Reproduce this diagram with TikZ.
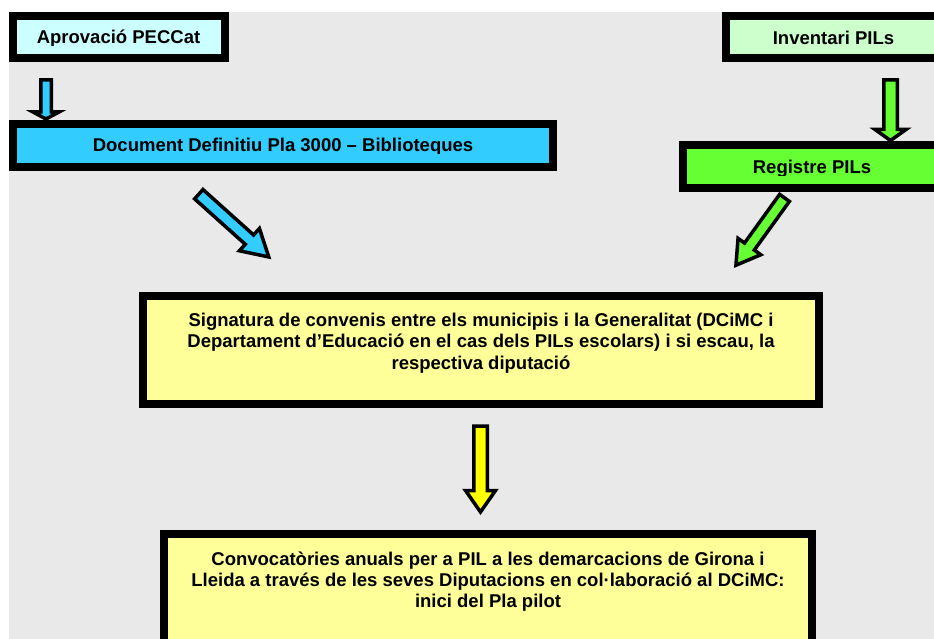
\documentclass[tikz,border=0pt]{standalone}
\usepackage{fontspec}
\setmainfont{Liberation Sans}
\definecolor{bgpat}{HTML}{E9E9E9}
\definecolor{lcyan}{HTML}{CCFFFF}
\definecolor{scyan}{HTML}{33CCFF}
\definecolor{lgreen}{HTML}{CCFFCC}
\definecolor{bgreen}{HTML}{66FF33}
\definecolor{lyellow}{HTML}{FFFF99}
\definecolor{byellow}{HTML}{FFFF00}
\tikzset{
  boxframe/.style={draw=black, line width=8pt},
  boxtext/.style={inner sep=0pt, anchor=base, font=\fontsize{18.5}{21.5}\selectfont\bfseries},
  barrow/.style={draw=black, line width=3.5pt, line join=miter},
}
% #1 colour, #2 x, #3 y (tail middle), #4 angle, #5 length, #6 shaft half width, #7 head half width, #8 head length
\newcommand\blockarrow[8]{%
  \begin{scope}[shift={(#2,#3)}, rotate=#4]
    \draw[barrow, fill=#1] (0,-#6) -- ({#5-#8},-#6) -- ({#5-#8},-#7) -- (#5,0)
      -- ({#5-#8},#7) -- ({#5-#8},#6) -- (0,#6) -- cycle;
  \end{scope}}
\begin{document}
\begin{tikzpicture}[x=1pt,y=-1pt]
\useasboundingbox (0,0) rectangle (934,639);
\fill[white] (0,0) rectangle (934,639);
\fill[bgpat] (9,12) rectangle (934,639);

% boxes
\draw[boxframe, fill=lcyan] (13,16) rectangle (225,58);
\begin{scope}\clip (13,16) rectangle (225,46);
\node[boxtext] (aprov) at (118.5,44) {Aprovació PECCat};
\end{scope}

\draw[boxframe, fill=scyan] (13,124) rectangle (553,167);
\begin{scope}\clip (13,124) rectangle (553,153.5);
\node[boxtext] (docdef) at (283,152) {Document Definitiu Pla 3000 – Biblioteques};
\end{scope}

\draw[boxframe, fill=lgreen] (726,16) rectangle (945,58);
\node[boxtext] (invent) at (833.5,45) {Inventari PILs};

\draw[boxframe, fill=bgreen] (683,145) rectangle (945,188);
\begin{scope}\clip (683,145) rectangle (945,175.5);
\node[boxtext] (regist) at (812,173.5) {Registre PILs};
\end{scope}

\draw[boxframe, fill=lyellow] (143,296) rectangle (819,404);
\node[boxtext] (sigA) at (481,326) {Signatura de convenis entre els municipis i la Generalitat (DCiMC i};
\node[boxtext] (sigB) at (481,347.5) {Departament d’Educació en el cas dels PILs escolars) i si escau, la};
\node[boxtext] (sigC) at (481,369) {respectiva diputació};

\draw[boxframe, fill=lyellow] (164,534) rectangle (812,650);
\node[boxtext] (convA) at (488,565) {Convocatòries anuals per a PIL a les demarcacions de Girona i};
\node[boxtext] (convB) at (488,586) {Lleida a través de les seves Diputacions en col·laboració al DCiMC:};
\node[boxtext] (convC) at (488,607) {inici del Pla pilot};

% block arrows
\blockarrow{scyan}{46}{80}{-90}{39}{5.25}{13}{7}
\blockarrow{bgreen}{890.5}{80}{-90}{60.5}{6.75}{15.5}{11}
\blockarrow{byellow}{480.5}{426}{-90}{86}{6.75}{15}{21.5}
\blockarrow{scyan}{198.8}{194.2}{-41.9}{94}{6.25}{15}{26}
\blockarrow{bgreen}{784.5}{197.9}{-125.8}{83}{6}{14}{23}
\end{tikzpicture}
\end{document}
